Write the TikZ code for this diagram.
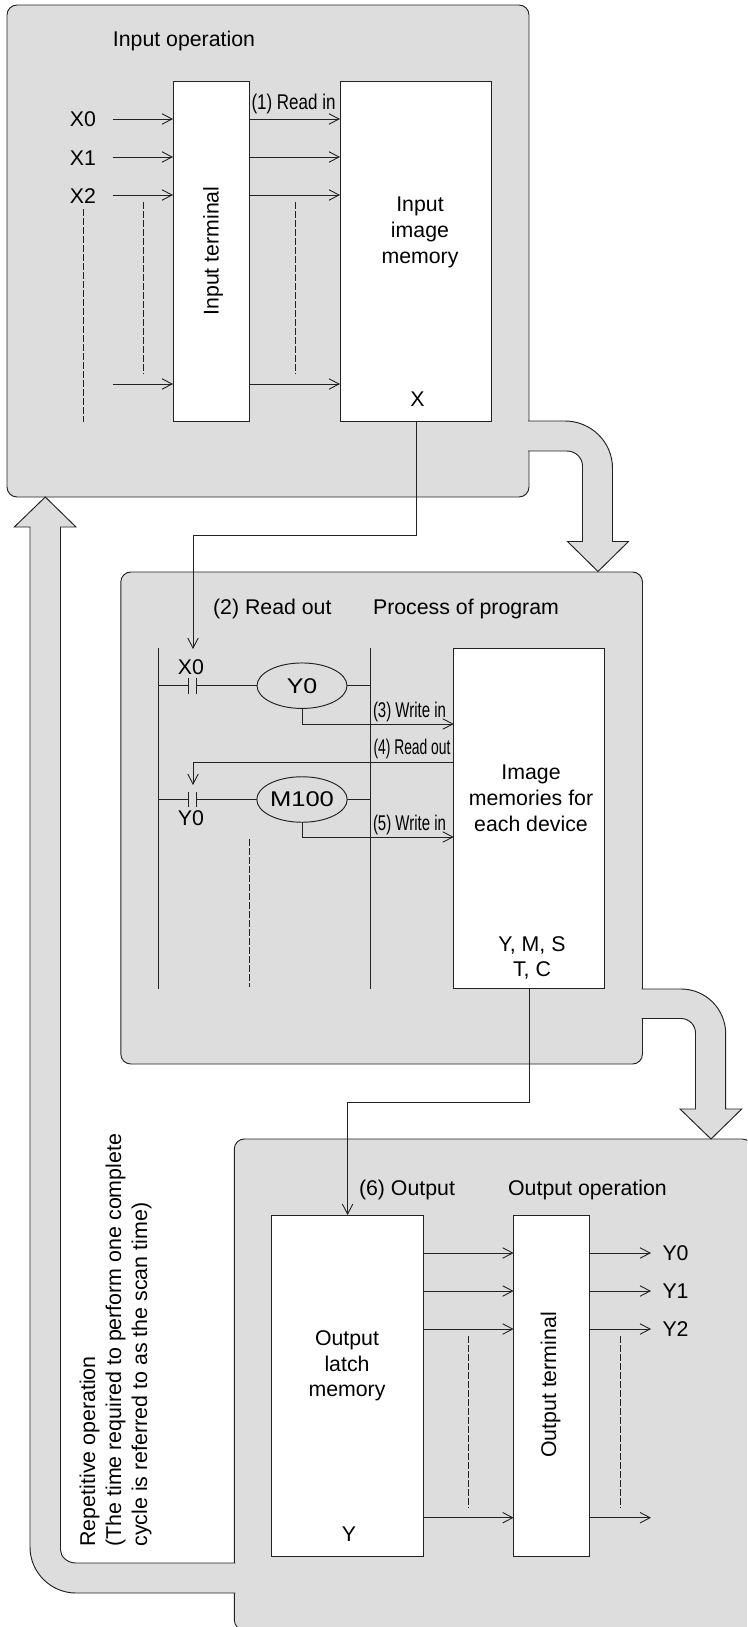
\documentclass[tikz,border=0pt]{standalone}
\usepackage{fontspec}
\setmainfont{Liberation Sans}
\usetikzlibrary{arrows.meta,shapes.geometric}
\definecolor{panelgrey}{HTML}{DDDDDD}
\definecolor{inkdark}{HTML}{222222}
\newcommand{\fw}[2]{\resizebox{#1pt}{\height}{#2}}
\tikzset{
  x=1pt,y=-1pt,
  every node/.style={font=\fontsize{21.3}{25.7}\selectfont,text=black,inner sep=0pt,outer sep=0pt},
  wire/.style={draw=inkdark,line width=0.95pt},
  arr/.style={wire,-{Straight Barb[length=10pt,width=10.5pt,line width=0.9pt]}},
  dashline/.style={draw=inkdark,line width=0.8pt,dash pattern=on 6.5pt off 2.5pt},
  panel/.style={draw=inkdark,line width=0.95pt,fill=panelgrey,rounded corners=10pt,anchor=north west},
  membox/.style={draw=inkdark,line width=0.95pt,fill=white,anchor=north west},
  coil/.style={ellipse,draw=inkdark,line width=0.95pt,fill=panelgrey,minimum width=90pt,minimum height=45.5pt},
  blockarrow/.style={draw=inkdark,line width=0.95pt,fill=panelgrey,line join=miter},
  lab/.style={anchor=base},
  lableft/.style={anchor=base west},
  multi/.style={align=center,anchor=center},
  vert/.style={rotate=90,anchor=base},
}
\begin{document}
\begin{tikzpicture}
\useasboundingbox (0,0) rectangle (747,1627);
\clip (0,0) rectangle (747,1627);

% panels
\node[panel,minimum width=522pt,minimum height=492pt] (panelA) at (7,5) {};
\node[panel,minimum width=521.7pt,minimum height=492pt] (panelB) at (120.8,572) {};
\node[panel,minimum width=518pt,minimum height=491pt] (panelC) at (234.3,1139) {};

% block arrows
\path[blockarrow] (528,421) -- (565,421) .. controls (591,421) and (612.5,442) .. (612.5,468)
  -- (612.5,541.5) -- (628.5,541.5) -- (598,571.5) -- (567.5,541.5) -- (582.5,541.5)
  -- (582.5,466) .. controls (582.5,457.7) and (575.5,451) .. (567,451) -- (528,451);
\path[blockarrow] (641.5,989) -- (681,989) .. controls (705.8,989) and (725.7,1009) .. (725.7,1034)
  -- (725.7,1109) -- (741.7,1109) -- (711,1139) -- (680,1109) -- (695.5,1109)
  -- (695.5,1033) .. controls (695.5,1025) and (689,1018.5) .. (681,1018.5) -- (641.5,1018.5);
\path[blockarrow] (235.3,1563) -- (76,1563) .. controls (67.7,1563) and (60.5,1557) .. (60.5,1550)
  -- (60.5,527) -- (76,527) -- (45.3,497) -- (14.3,527) -- (30,527)
  -- (30,1547) .. controls (30,1572.3) and (50.7,1593) .. (76,1593) -- (235.3,1593);

% boxes
\node[membox,minimum width=76pt,minimum height=340pt] (interm) at (173,81) {};
\node[membox,minimum width=151pt,minimum height=340pt] (inmem) at (340,81) {};
\node[membox,minimum width=150.5pt,minimum height=340.3pt] (devmem) at (453.7,648) {};
\node[membox,minimum width=152pt,minimum height=341pt] (latch) at (271.6,1215) {};
\node[membox,minimum width=75.4pt,minimum height=341pt] (outterm) at (513.6,1215) {};

% --- Input operation ---
\node[lab] (titleA) at (184,47) {Input operation};
\node[lab] (x0) at (83,127) {X0};
\node[lab] (x1) at (83,165) {X1};
\node[lab] (x2) at (83,203) {X2};
\node[lab] (readin) at (293.5,109.5) {\fw{84}{(1) Read in}};
\node[vert] (intermlab) at (218.6,251) {Input terminal};
\node[multi] (inmemlab) at (420,232.5) {Input\\image\\memory};
\node[lab] (xdev) at (417.5,406.5) {X};

\coordinate (ia) at (112.5,119);
\coordinate (ib) at (112.5,157);
\coordinate (ic) at (112.5,195);
\coordinate (id) at (112.5,384);
\foreach \c in {ia,ib,ic,id}{
  \draw[arr] (\c) -- (\c -| interm.west);
  \draw[arr] (interm.east |- \c) -- (inmem.west |- \c);
}
\draw[dashline] (83,209) coordinate (da1) -- (83,422) coordinate (da2);
\draw[dashline] (143.5,202) coordinate (db1) -- (143.5,374) coordinate (db2);
\draw[dashline] (295,202) coordinate (dc1) -- (295,374) coordinate (dc2);

% --- Process of program ---
\node[lab] (readout) at (272.3,614) {(2) Read out};
\node[lab] (titleB) at (466,614) {Process of program};
\node[lab] (cx0) at (191,674.5) {X0};
\node[lab] (cy0) at (191,825) {Y0};
\node[coil] (coilY) at (302,685.7) {\scalebox{1.17}[1]{Y0}};
\node[coil] (coilM) at (302,799.5) {\scalebox{1.2}[1]{M100}};
\node[lab] (wr3) at (409.5,717) {\fw{73}{(3) Write in}};
\node[lab] (rd4) at (412,754.4) {\fw{77}{(4) Read out}};
\node[lab] (wr5) at (409.5,830.6) {\fw{73}{(5) Write in}};
\node[multi] (devlab) at (531,798.3) {Image\\memories for\\each device};
\node[multi] (devlist) at (532,958) {Y, M, S\\T, C};

\coordinate (railLt) at (158.7,648);
\coordinate (railLb) at (158.7,989);
\coordinate (railRt) at (370,648);
\coordinate (railRb) at (370,989);
\draw[wire] (railLt) -- (railLb);
\draw[wire] (railRt) -- (railRb);
\coordinate (c1a) at (188.7,685.7);
\coordinate (c1b) at (196.3,685.7);
\coordinate (c2a) at (188.7,799.5);
\coordinate (c2b) at (196.3,799.5);
\draw[wire] (railLt |- c1a) -- (c1a);
\draw[wire] (c1b) -- (coilY.west);
\draw[wire] (coilY.east) -- (railRt |- coilY.east);
\draw[wire] (railLt |- c2a) -- (c2a);
\draw[wire] (c2b) -- (coilM.west);
\draw[wire] (coilM.east) -- (railRt |- coilM.east);
\foreach \c in {c1a,c1b,c2a,c2b}{
  \draw[wire] ([yshift=-7.8pt]\c) -- ([yshift=7.8pt]\c);
}
\coordinate (w3) at (453.7,724);
\coordinate (r4) at (453.7,762);
\coordinate (w5) at (453.7,837);
\coordinate (c2top) at (193,785);
\draw[arr] (coilY.south) |- (w3);
\draw[arr] (r4) -| (c2top);
\draw[arr] (coilM.south) |- (w5);
\draw[dashline] (249,839) coordinate (dd1) -- (249,987) coordinate (dd2);

% --- Output operation ---
\node[lab] (outlab) at (407,1195) {(6) Output};
\node[lab] (titleC) at (587.5,1195) {Output operation};
\node[multi] (latchlab) at (347,1366) {Output\\latch\\memory};
\node[lab] (ydev) at (349,1541.5) {Y};
\node[vert] (outtermlab) at (556,1385) {Output terminal};
\node[lableft] (oy0) at (662.5,1260.7) {Y0};
\node[lableft] (oy1) at (662.5,1298.7) {Y1};
\node[lableft] (oy2) at (662.5,1336.7) {Y2};

\coordinate (oa) at (651,1253);
\coordinate (ob) at (651,1291);
\coordinate (oc) at (651,1329);
\coordinate (od) at (651,1517.7);
\foreach \c in {oa,ob,oc,od}{
  \draw[arr] (latch.east |- \c) -- (outterm.west |- \c);
  \draw[arr] (outterm.east |- \c) -- (\c);
}
\draw[dashline] (468,1336) coordinate (de1) -- (468,1508) coordinate (de2);
\draw[dashline] (620,1336) coordinate (df1) -- (620,1508) coordinate (df2);

% connectors between memories
\coordinate (k1) at (416,535);
\coordinate (k1end) at (193,649);
\draw[arr] (inmem.south -| k1) -- (k1) -| (k1end);
\coordinate (k2) at (529,1102);
\draw[arr] (devmem.south -| k2) -- (k2) -| (latch.north);

% repetitive operation text
\node[rotate=90,anchor=north west,align=left,font=\fontsize{21.4}{26}\selectfont] (repeat) at (79.5,1546.5)
  {Repetitive operation\\(The time required to perform one complete\\cycle is referred to as the scan time)};
\end{tikzpicture}
\end{document}
